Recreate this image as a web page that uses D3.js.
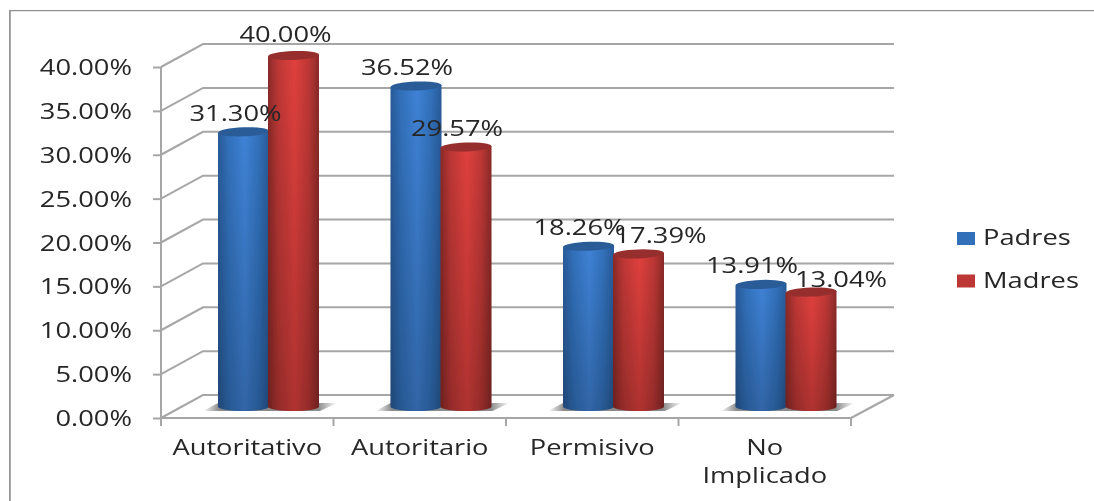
<!DOCTYPE html>
<html>
<head>
<meta charset="utf-8">
<script src="https://cdnjs.cloudflare.com/ajax/libs/d3/7.8.5/d3.min.js"></script>
<style>
html, body { margin: 0; padding: 0; background: #fff; }
svg { display: block; }
text { font-family: "Open Sans", "DejaVu Sans", sans-serif; fill: #262626; }
</style>
</head>
<body>
<div id="chart"></div>
<script>
var categories = ["Autoritativo", "Autoritario", "Permisivo", "No Implicado"];
var seriesNames = ["Padres", "Madres"];
var padres = [31.30, 36.52, 18.26, 13.91];
var madres = [40.00, 29.57, 17.39, 13.04];
var yTicks = [0, 5, 10, 15, 20, 25, 30, 35, 40];

var width = 1094, height = 501;
var left = 161, right = 851, top0 = 67, bottom = 418;
var depthX = 42, depthY = -23;
var stretch = 1.3;
var fontSize = 21;

var colors = {
  Padres: { light: "#3f82d6", mid: "#3170ba", dark: "#2a5a98", top: "#2a5c98" },
  Madres: { light: "#e0403d", mid: "#bd3735", dark: "#8a2a28", top: "#962f2d" }
};

var svg = d3.select("#chart").append("svg")
  .attr("width", width)
  .attr("height", height);

var defs = svg.append("defs");
seriesNames.forEach(function (s) {
  var g = defs.append("linearGradient").attr("id", "cyl" + s);
  g.append("stop").attr("offset", "0%").attr("stop-color", colors[s].dark);
  g.append("stop").attr("offset", "20%").attr("stop-color", colors[s].mid);
  g.append("stop").attr("offset", "52%").attr("stop-color", colors[s].light);
  g.append("stop").attr("offset", "80%").attr("stop-color", colors[s].mid);
  g.append("stop").attr("offset", "100%").attr("stop-color", colors[s].dark);
  var v = defs.append("linearGradient").attr("id", "fade" + s)
    .attr("x1", 0).attr("y1", 0).attr("x2", 0).attr("y2", 1);
  v.append("stop").attr("offset", "0%").attr("stop-color", "#000").attr("stop-opacity", 0);
  v.append("stop").attr("offset", "100%").attr("stop-color", "#000").attr("stop-opacity", 0.22);
});
var sh = defs.append("linearGradient").attr("id", "shadow");
sh.append("stop").attr("offset", "0%").attr("stop-color", "#8a8a8a").attr("stop-opacity", 0);
sh.append("stop").attr("offset", "12%").attr("stop-color", "#8a8a8a");
sh.append("stop").attr("offset", "86%").attr("stop-color", "#8a8a8a");
sh.append("stop").attr("offset", "100%").attr("stop-color", "#8a8a8a").attr("stop-opacity", 0);
defs.append("filter").attr("id", "soft")
  .attr("x", 0).attr("y", 0).attr("width", 1).attr("height", 1)
  .append("feGaussianBlur").attr("stdDeviation", 0.55);

var root = svg.append("g").attr("filter", "url(#soft)");

// outer border of the chart, open on the right and at the bottom
root.append("path")
  .attr("d", "M9.5," + height + "V10H" + width)
  .attr("fill", "none")
  .attr("stroke", "#929292")
  .attr("stroke-width", 2.5);

var x = d3.scaleBand().domain(categories).range([left, right]);
var y = d3.scaleLinear().domain([0, 40]).range([bottom, top0]);

// back wall gridlines and the slanted side wall
var grid = root.append("g")
  .attr("stroke", "#a6a6a6")
  .attr("stroke-width", 2)
  .attr("fill", "none");
grid.selectAll("path")
  .data(yTicks)
  .enter().append("path")
  .attr("d", function (d) {
    return "M" + left + "," + y(d) + "l" + depthX + "," + depthY + "H" + (right + depthX + 1);
  });
grid.append("path")
  .attr("d", "M" + right + "," + bottom + "l" + (depthX + 1) + "," + depthY);

// axes
var yAxis = root.append("g")
  .attr("transform", "translate(" + left + ",0)")
  .call(d3.axisLeft(y).tickValues(yTicks).tickSize(8)
    .tickFormat(function (d) { return d.toFixed(2) + "%"; }));
yAxis.select(".domain").attr("d", "M0," + top0 + "V" + (bottom + 8));
yAxis.selectAll("line, .domain").attr("stroke", "#a6a6a6").attr("stroke-width", 2);
yAxis.selectAll("text")
  .attr("font-size", fontSize)
  .attr("x", 0)
  .attr("dy", "0.36em")
  .attr("text-anchor", "end")
  .attr("transform", "translate(-29,0) scale(" + stretch + ",1)");

var xAxis = root.append("g")
  .attr("transform", "translate(0," + bottom + ")")
  .call(d3.axisBottom(x).tickValues([]).tickSize(0));
xAxis.select(".domain")
  .attr("d", "M" + left + ",0H" + right)
  .attr("stroke", "#a6a6a6")
  .attr("stroke-width", 2);
xAxis.selectAll("line.sep")
  .data(categories)
  .enter().append("line")
  .attr("class", "sep")
  .attr("x1", function (d) { return x(d) + x.bandwidth(); })
  .attr("x2", function (d) { return x(d) + x.bandwidth(); })
  .attr("y1", 0)
  .attr("y2", 8)
  .attr("stroke", "#a6a6a6")
  .attr("stroke-width", 2);

// category labels, the last one wraps
root.append("g").selectAll("g")
  .data(categories)
  .enter().append("g")
  .each(function (d) {
    var lines = d === "No Implicado" ? ["No", "Implicado"] : [d];
    var cx = x(d) + x.bandwidth() / 2;
    d3.select(this).selectAll("text")
      .data(lines)
      .enter().append("text")
      .attr("text-anchor", "middle")
      .attr("font-size", fontSize)
      .attr("transform", function (l, i) {
        return "translate(" + cx + "," + (455 + i * 28) + ") scale(" + stretch + ",1)";
      })
      .text(function (l) { return l; });
  });

// cylinders
var barW = 51, rx = barW / 2, ry = 4.5, sink = 11.5;
var barStart = 57;
var rows = [];
categories.forEach(function (c, i) {
  rows.push({ cat: c, s: "Padres", v: padres[i], k: 0 });
  rows.push({ cat: c, s: "Madres", v: madres[i], k: 1 });
});

var cyl = root.append("g");
categories.forEach(function (c) {
  var a = x(c) + barStart;
  cyl.append("path")
    .attr("d", "M" + (a - 15) + "," + (bottom - 7) +
      "L" + a + "," + (bottom - 15) +
      "H" + (a + barW * 2 + 17) +
      "L" + (a + barW * 2) + "," + (bottom - 7) + "Z")
    .attr("fill", "url(#shadow)");
});

rows.forEach(function (d) {
  var x0 = x(d.cat) + barStart + d.k * (barW - 1);
  var topY = y(d.v) - sink;
  var baseY = y(0) - sink;
  var body = "M" + x0 + "," + (topY + 1) +
    "V" + baseY +
    "A" + rx + "," + ry + " 0 0 0 " + (x0 + barW) + "," + baseY +
    "V" + (topY - 1) + "Z";
  var g = cyl.append("g");
  g.append("path").attr("d", body).attr("fill", "url(#cyl" + d.s + ")");
  g.append("path").attr("d", body).attr("fill", "url(#fade" + d.s + ")");
  g.append("ellipse")
    .attr("transform", "rotate(-2 " + (x0 + rx) + " " + topY + ")")
    .attr("cx", x0 + rx)
    .attr("cy", topY)
    .attr("rx", rx)
    .attr("ry", ry)
    .attr("fill", colors[d.s].top);
});

// value labels, nudged off the bars the way the chart had them
var nudgePadres = [[-8, -22], [-9, -23], [-9, -23], [-9, -23]];
var nudgeMadres = [[-8, -25], [-9, -23], [22, -22], [30, -17]];
root.append("g").selectAll("text")
  .data(rows)
  .enter().append("text")
  .attr("font-size", fontSize)
  .attr("text-anchor", "middle")
  .attr("transform", function (d) {
    var i = categories.indexOf(d.cat);
    var n = d.k ? nudgeMadres[i] : nudgePadres[i];
    var cx = x(d.cat) + barStart + d.k * (barW - 1) + rx + n[0];
    return "translate(" + cx + "," + (y(d.v) + n[1]) + ") scale(" + stretch + ",1)";
  })
  .text(function (d) { return d.v.toFixed(2) + "%"; });

// legend
var legend = root.append("g").selectAll("g")
  .data(seriesNames)
  .enter().append("g")
  .attr("transform", function (d, i) { return "translate(957," + (232 + i * 42.5) + ")"; });
legend.append("rect")
  .attr("width", 18)
  .attr("height", 13)
  .attr("fill", function (d) { return colors[d].mid; });
legend.append("text")
  .attr("font-size", fontSize)
  .attr("transform", "translate(26,13) scale(" + stretch + ",1)")
  .text(function (d) { return d; });
</script>
</body>
</html>
